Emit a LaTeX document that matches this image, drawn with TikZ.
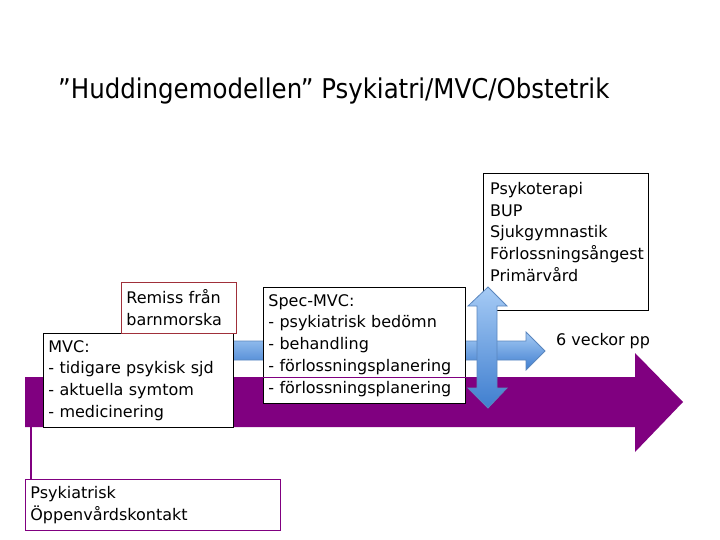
\documentclass[tikz,border=0pt]{standalone}
\usepackage{fontspec}
\setmainfont{DejaVu Sans}
\newfontfamily\titlefont{DejaVu Sans Condensed}
\definecolor{purp}{HTML}{800080}
\definecolor{bluetop}{HTML}{A6CBF5}
\definecolor{bluebot}{HTML}{3F7ECF}
\definecolor{blueedge}{HTML}{5A86BE}
\definecolor{remissred}{HTML}{A0303A}
\tikzset{
  box/.style={draw=black, fill=white, line width=0.8pt, anchor=north west, inner sep=5pt, align=left, font=\fontsize{16}{21.7}\selectfont},
  bluearrow/.style={draw=blueedge, line width=0.8pt, top color=bluetop, bottom color=bluebot},
  body/.style={font=\fontsize{16}{21.7}\selectfont}
}
\begin{document}
\begin{tikzpicture}[x=1pt,y=-1pt]
\useasboundingbox (0,0) rectangle (720,540);
% title
\node[anchor=west, font=\titlefont\fontsize{27.2}{30}\selectfont, inner sep=0pt] (title) at (58,91) {”Huddingemodellen” Psykiatri/MVC/Obstetrik};
% purple timeline arrow
\fill[purp] (25,377) -- (635,377) -- (635,353) -- (683,402) -- (635,452) -- (635,427) -- (25,427) -- cycle;
\coordinate (tl) at (31,427);
% horizontal blue arrow
\path[bluearrow] (230,341) -- (526,341) -- (526,332) -- (545,351) -- (526,370) -- (526,360) -- (230,360) -- cycle;
% boxes
\node[box, minimum width=190, minimum height=94, text width=180] (mvc) at (43,333) {MVC:\\- tidigare psykisk sjd\\- aktuella symtom\\- medicinering};
\node[box, draw=remissred, minimum width=115, minimum height=51, text width=105] (remiss) at (121,282) {Remiss från\\barnmorska};
\node[box, minimum width=202, minimum height=116, text width=192] (spec) at (263,287) {Spec-MVC:\\- psykiatrisk bedömn\\- behandling\\- förlossningsplanering\\- förlossningsplanering};
\draw[purp, line width=0.9pt] (263,377) -- (468,377);
\node[draw=black, fill=white, line width=0.8pt, anchor=north west, minimum width=165, minimum height=137, inner sep=0pt] (psyko) at (483,173) {};
\node[body, anchor=north west, align=left, inner sep=0pt] (psykotext) at (490,182) {Psykoterapi\\BUP\\Sjukgymnastik\\Förlossningsångest\\Primärvård};
% vertical blue double arrow
\path[bluearrow] (488,287) -- (507,306) -- (497,306) -- (497,388) -- (507,388) -- (488,408) -- (468,388) -- (477,388) -- (477,306) -- (468,306) -- cycle;
\node[body, anchor=west, inner sep=0pt] (veckor) at (556,341) {6 veckor pp};
% psykiatrisk
\node[box, draw=purp, minimum width=255, minimum height=51, text width=245] (psyk) at (25,479) {Psykiatrisk\\Öppenvårdskontakt};
\draw[purp, line width=2.2pt] (tl) -- (psyk.north -| tl);
\end{tikzpicture}
\end{document}
